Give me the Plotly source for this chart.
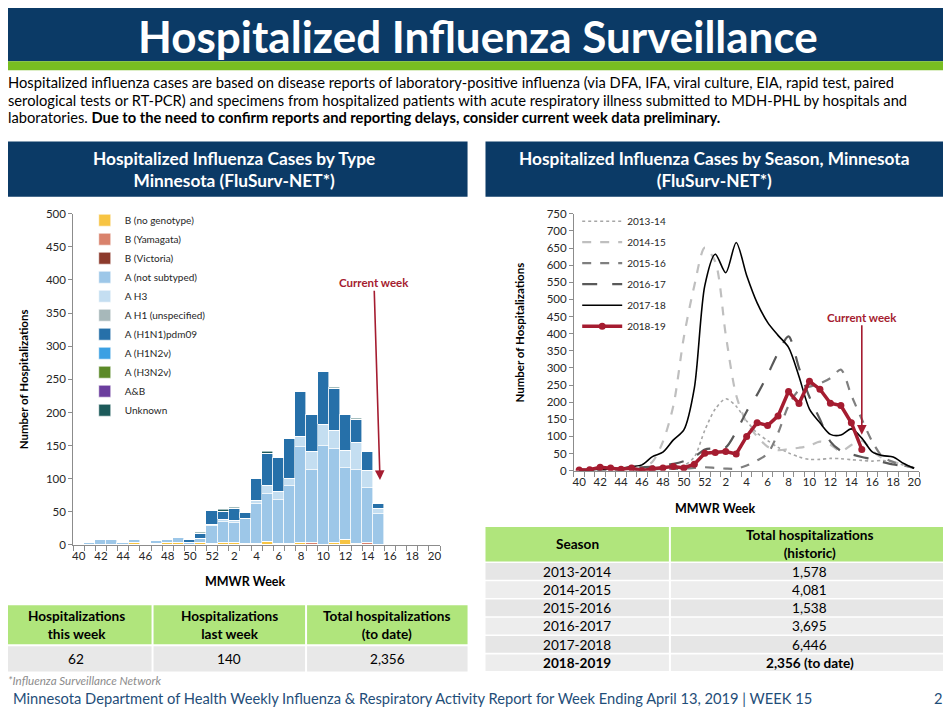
import plotly.graph_objects as go

# figure size
W, H = 951, 709
# where figure pixel (0, 0) lands on the photographed page, and its vertical scale
OX, OY, SY = 8, 15, 0.978

NAVY = '#0B3A66'
STRIPE_GREEN = '#78BE21'
TABLE_GREEN = '#B0E57C'
DARK_RED = '#A51C30'
FONT = 'Lato'

# MMWR weeks of the season (x categories) and the labels shown under the axis
WEEKS = ['40', '41', '42', '43', '44', '45', '46', '47', '48', '49', '50', '51', '52',
         '1', '2', '3', '4', '5', '6', '7', '8', '9', '10', '11', '12', '13', '14', '15',
         '16', '17', '18', '19', '20']
TICK_LABELS = ['40', '42', '44', '46', '48', '50', '52', '2', '4', '6', '8', '10',
               '12', '14', '16', '18', '20']

# ---- left chart: hospitalized cases by type, weeks 40 -> 15 (stack order bottom -> top)
b_no_genotype = [0, 0, 1, 1, 1, 3, 0, 2, 3, 3, 0, 3, 2, 3, 4, 2, 2, 5, 2, 2, 3, 1, 1, 3, 8, 1, 1, 0]
b_yamagata = [0, 0, 0, 0, 0, 0, 0, 0, 0, 0, 0, 0, 0, 0, 0, 0, 0, 0, 0, 0, 0, 2, 0, 1, 0, 1, 3, 0]
b_victoria = [0, 0, 0, 0, 0, 0, 0, 0, 0, 0, 0, 0, 0, 0, 0, 0, 0, 0, 0, 0, 0, 0, 0, 0, 0, 0, 0, 0]
a_not_subtyped = [2, 3, 7, 7, 3, 5, 0, 4, 5, 8, 4, 7, 27, 32, 30, 37, 61, 73, 66, 87, 145, 110, 149, 142, 109, 112, 82, 47]
a_h3 = [0, 0, 0, 0, 0, 0, 0, 0, 0, 0, 0, 0, 1, 3, 2, 0, 4, 11, 13, 11, 15, 28, 32, 27, 26, 40, 26, 8]
a_h1_unspecified = [0, 0, 0, 0, 0, 0, 0, 0, 0, 0, 0, 0, 0, 0, 0, 0, 0, 0, 0, 0, 0, 0, 0, 0, 0, 0, 0, 0]
a_h1n1pdm09 = [0, 0, 2, 0, 0, 0, 0, 0, 0, 1, 4, 7, 21, 12, 18, 10, 33, 49, 51, 60, 68, 55, 79, 63, 54, 35, 28, 7]
a_h1n2v = [0, 0, 0, 0, 0, 0, 0, 0, 0, 0, 0, 0, 0, 0, 0, 0, 0, 0, 0, 0, 0, 0, 0, 0, 0, 0, 0, 0]
a_h3n2v = [0, 0, 0, 0, 0, 0, 0, 0, 0, 0, 0, 0, 0, 0, 0, 0, 0, 0, 0, 0, 0, 0, 0, 0, 0, 0, 0, 0]
a_and_b = [0, 0, 0, 0, 0, 0, 0, 0, 0, 0, 0, 0, 0, 0, 0, 0, 0, 0, 0, 0, 0, 0, 0, 0, 0, 0, 0, 0]
unknown = [0, 0, 0, 0, 0, 0, 0, 0, 0, 0, 0, 2, 0, 3, 2, 0, 0, 2, 0, 0, 0, 0, 0, 2, 0, 1, 0, 0]

# ---- right chart: hospitalizations by season, weeks 40 -> 20
s2013_14 = [2, 2, 3, 3, 3, 4, 4, 5, 6, 8, 15, 40, 118, 180, 210, 188, 145, 110, 88, 68, 52, 40, 33, 33, 36, 35, 32, 30, 28, 30, 25, 16, 8]
s2014_15 = [2, 2, 2, 3, 3, 5, 10, 26, 85, 190, 390, 540, 651, 610, 397, 220, 140, 100, 70, 60, 63, 67, 73, 85, 76, 56, 75, 88, 58, 36, 26, 17, 7]
s2015_16 = [2, 2, 2, 2, 3, 3, 3, 4, 5, 5, 6, 8, 10, 8, 6, 6, 15, 30, 50, 110, 190, 235, 245, 255, 270, 295, 220, 150, 85, 40, 25, 15, 8]
s2016_17 = [3, 3, 4, 5, 6, 8, 10, 12, 15, 20, 28, 40, 62, 65, 68, 114, 173, 222, 280, 344, 392, 300, 215, 150, 85, 58, 48, 40, 33, 25, 18, 13, 8]
s2017_18 = [3, 3, 4, 5, 7, 12, 17, 41, 54, 90, 119, 241, 540, 632, 578, 666, 570, 490, 433, 395, 360, 275, 180, 140, 106, 104, 122, 95, 55, 44, 40, 21, 7]
s2018_19 = [2, 3, 10, 8, 4, 8, 0, 6, 8, 12, 8, 19, 51, 53, 56, 49, 100, 140, 132, 160, 231, 196, 261, 238, 197, 190, 140, 62]

# ---- tables
summary_headers = ['Hospitalizations<br>this week', 'Hospitalizations<br>last week',
                   'Total hospitalizations<br>(to date)']
summary_values = ['62', '140', '2,356']
season_headers = ['Season', 'Total hospitalizations<br>(historic)']
seasons = ['2013-2014', '2014-2015', '2015-2016', '2016-2017', '2017-2018', '2018-2019']
season_totals = ['1,578', '4,081', '1,538', '3,695', '6,446', '2,356 (to date)']


def px(x):
    # page x (reference pixels) -> paper fraction
    return (x - OX) / W


def py(y):
    # page y (reference pixels) -> paper fraction
    return 1 - (y - OY) / (SY * H)


def pix(d):
    # page pixel distance -> figure pixels (vertical)
    return d / SY


def week_pos(values):
    # numeric axis position of each value (index of its MMWR week)
    return [WEEKS.index(w) for w in WEEKS[:len(values)]]


fig = go.Figure()

# ---------------- left: stacked bars by type
bar_series = [
    ('B (no genotype)', b_no_genotype, '#F7C443'),
    ('B (Yamagata)', b_yamagata, '#D9826C'),
    ('B (Victoria)', b_victoria, '#8C3A2C'),
    ('A (not subtyped)', a_not_subtyped, '#9DC7E8'),
    ('A H3', a_h3, '#C4DEF1'),
    ('A H1 (unspecified)', a_h1_unspecified, '#A7B8BA'),
    ('A (H1N1)pdm09', a_h1n1pdm09, '#2670A9'),
    ('A (H1N2v)', a_h1n2v, '#3BA0E3'),
    ('A (H3N2v)', a_h3n2v, '#5C8A28'),
    ('A&B', a_and_b, '#6B3E9E'),
    ('Unknown', unknown, '#1C5A5A'),
]
for name, vals, color in bar_series:
    fig.add_trace(go.Bar(
        x=week_pos(vals), y=vals, name=name,
        marker=dict(color=color, line=dict(color='white', width=0.6)),
        width=1.0, xaxis='x', yaxis='y', legend='legend', legendgroup=name,
    ))

# ---------------- right: season lines
line_series = [
    ('2013-14', s2013_14, dict(color='#A6A6A6', width=1.6, dash='dot')),
    ('2014-15', s2014_15, dict(color='#BFBFBF', width=2.2, dash='dash')),
    ('2015-16', s2015_16, dict(color='#7F7F7F', width=2.2, dash='dash')),
    ('2016-17', s2016_17, dict(color='#595959', width=2.2, dash='longdash')),
    ('2017-18', s2017_18, dict(color='black', width=1.6)),
]
for name, vals, line in line_series:
    fig.add_trace(go.Scatter(
        x=week_pos(vals), y=vals, name=name, mode='lines',
        line=dict(shape='spline', smoothing=0.8, **line),
        xaxis='x2', yaxis='y2', legend='legend2', legendgroup=name,
    ))
fig.add_trace(go.Scatter(
    x=week_pos(s2018_19), y=s2018_19, name='2018-19', mode='lines+markers',
    line=dict(color=DARK_RED, width=3.5), marker=dict(size=7, color=DARK_RED),
    xaxis='x2', yaxis='y2', legend='legend2', legendgroup='2018-19',
))

axis_common = dict(showgrid=False, zeroline=False, showline=True, linecolor='#8C8C8C',
                   tickfont=dict(family=FONT, size=11.5, color='#262626'))
minor_ticks = dict(tick0=-0.5, dtick=1, ticks='outside', ticklen=5, tickcolor='#8C8C8C')

fig.update_layout(
    width=W, height=H, margin=dict(l=0, r=0, t=0, b=0),
    paper_bgcolor='white', plot_bgcolor='white', barmode='stack', bargap=0,
    showlegend=True,
    xaxis=dict(domain=[px(72.4), px(440.4)], range=[-0.5, 32.5], anchor='y',
               tickvals=[WEEKS.index(t) for t in TICK_LABELS], ticktext=TICK_LABELS, ticks='',
               minor=minor_ticks, **axis_common),
    yaxis=dict(domain=[py(543), py(213)], range=[0, 500], dtick=50, anchor='x',
               ticks='outside', ticklen=4, tickcolor='#8C8C8C', **axis_common),
    xaxis2=dict(domain=[px(574.75), px(921.25)], range=[-0.5, 32.5], anchor='y2',
                tickvals=[WEEKS.index(t) for t in TICK_LABELS], ticktext=TICK_LABELS, ticks='',
                minor=minor_ticks, **axis_common),
    yaxis2=dict(domain=[py(469), py(213)], range=[0, 750], dtick=50, anchor='x2',
                ticks='outside', ticklen=4, tickcolor='#8C8C8C', **axis_common),
    legend=dict(x=px(84), y=py(205), xanchor='left', yanchor='top', traceorder='grouped',
                font=dict(family=FONT, size=10, color='#262626'), bgcolor='rgba(0,0,0,0)',
                itemwidth=30, tracegroupgap=0),
    legend2=dict(x=px(578), y=py(206), xanchor='left', yanchor='top', traceorder='grouped',
                 font=dict(family=FONT, size=10, color='#262626'), bgcolor='rgba(0,0,0,0)',
                 itemwidth=40, tracegroupgap=2),
)

# ---------------- slide decorations
shapes = []


def box(x0, x1, y0, y1, color):
    shapes.append(dict(type='rect', xref='paper', yref='paper', x0=px(x0), x1=px(x1),
                       y0=py(y1), y1=py(y0), fillcolor=color, line_width=0, layer='below'))


box(0, 970, -20, 61, NAVY)
box(0, 970, 61, 70, STRIPE_GREEN)
box(0, 468, 141, 196, NAVY)
box(486, 945, 141, 196, NAVY)

annotations = []


def label(text, x, y, size, color='black', **kw):
    a = dict(text=text, x=px(x), y=py(y), xref='paper', yref='paper', showarrow=False,
             xanchor='center', yanchor='middle', font=dict(family=FONT, size=size, color=color))
    a.update(kw)
    annotations.append(a)


label('<b>Hospitalized Influenza Surveillance</b>', 478, 35.5, 44, 'white', borderpad=0)
description = [
    'Hospitalized influenza cases are based on disease reports of laboratory-positive influenza '
    '(via DFA, IFA, viral culture, EIA, rapid test, paired',
    'serological tests or RT-PCR) and specimens from hospitalized patients with acute respiratory '
    'illness submitted to MDH-PHL by hospitals and',
    'laboratories. <b>Due to the need to confirm reports and reporting delays, consider current '
    'week data preliminary.</b>',
]
for i, line in enumerate(description):
    label(line, 5, 82 + 17.5 * i, 14.7, xanchor='left')

label('<b>Hospitalized Influenza Cases by Type<br>Minnesota (FluSurv-NET*)</b>', 234, 168.5, 17.3, 'white')
label('<b>Hospitalized Influenza Cases by Season, Minnesota<br>(FluSurv-NET*)</b>', 716, 168.5, 17.3, 'white')
label('<b>Number of Hospitalizations</b>', 22, 378, 11.5, textangle=-90)
label('<b>MMWR Week</b>', 245, 579, 12.5)
label('<b>Number of Hospitalizations</b>', 520, 331, 11.5, textangle=-90)
label('<b>MMWR Week</b>', 716, 507, 12.5)

# summary table (left)
sum_cols = [(0, 151), (153, 305), (307, 468)]
for (x0, x1), head, val in zip(sum_cols, summary_headers, summary_values):
    box(x0, x1, 603, 642, TABLE_GREEN)
    box(x0, x1, 644, 669, '#E8E8E8')
    label('<b>' + head + '</b>', (x0 + x1) / 2, 623, 13.6)
    label(val, (x0 + x1) / 2, 657, 13.6)

# season table (right)
season_cols = [(486, 670), (672, 951)]
row_top, row_h = 561, 18.2
for ci, ((x0, x1), head) in enumerate(zip(season_cols, season_headers)):
    box(x0, x1, 525, 559.5, TABLE_GREEN)
    label('<b>' + head + '</b>', (x0 + x1) / 2, 542.5, 13.6)
    column = seasons if ci == 0 else season_totals
    for ri, text in enumerate(column):
        y0 = row_top + ri * row_h
        box(x0, x1, y0, y0 + row_h - 1.6, '#E6E6E6' if ri % 2 == 0 else '#EDEDED')
        if ri == len(column) - 1:
            text = '<b>' + text + '</b>'
        label(text, (x0 + x1) / 2, y0 + row_h / 2 - 0.5, 13.6)

label('<i>*Influenza Surveillance Network</i>', 5, 678, 11.6, '#8C8C8C', xanchor='left')
label('Minnesota Department of Health Weekly Influenza &amp; Respiratory Activity Report for '
      'Week Ending April 13, 2019 | WEEK 15', 10, 695, 14.7, '#1F4E79', xanchor='left')
label('2', 940, 695, 14.7, '#1F4E79')

fig.update_layout(shapes=shapes, annotations=annotations)

# "Current week" arrows point at week 15
fig.add_annotation(x=27.1, y=98, xref='x', yref='y', text='<b>Current week</b>',
                   showarrow=True, ax=-6, ay=-pix(193), arrowhead=2, arrowsize=1.2, arrowwidth=1.6,
                   arrowcolor=DARK_RED, font=dict(family=FONT, size=11.5, color=DARK_RED))
fig.add_annotation(x=27, y=105, xref='x2', yref='y2', text='<b>Current week</b>',
                   showarrow=True, ax=0, ay=-pix(115), arrowhead=2, arrowsize=1.2, arrowwidth=1.6,
                   arrowcolor=DARK_RED, font=dict(family=FONT, size=11.5, color=DARK_RED))

fig.write_html('out.html')
print('saved out.html')
